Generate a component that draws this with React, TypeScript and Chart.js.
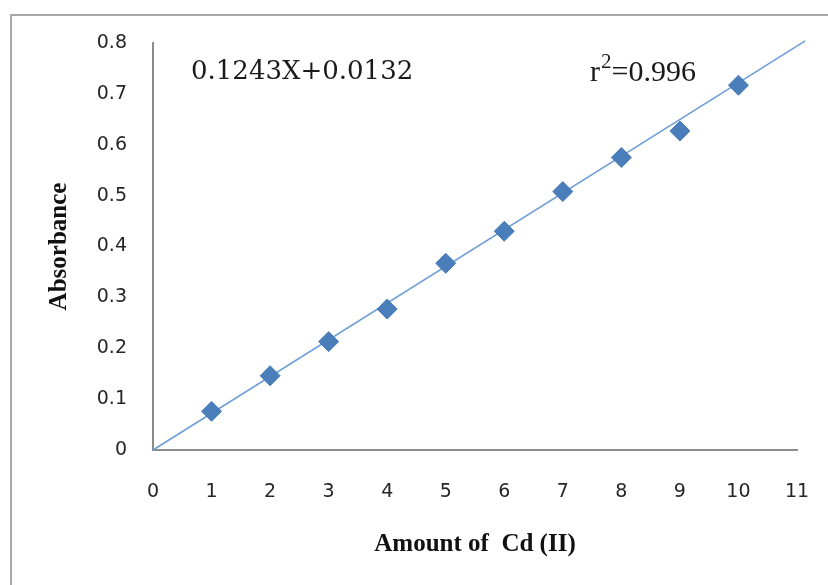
import React, { useEffect, useRef } from "react";
import { Chart, registerables } from "chart.js";

Chart.register(...registerables);

// Data
const amounts = [1, 2, 3, 4, 5, 6, 7, 8, 9, 10];
const absorbance = [0.076, 0.146, 0.213, 0.277, 0.367, 0.43, 0.508, 0.575, 0.627, 0.717];
const trendX = [0, 11.14];
const trendY = [0, 0.804];
const xMin = 0;
const xMax = 11;
const yMin = 0;
const yMax = 0.8;
const equationText = "0.1243X+0.0132";
const rSquaredText = "=0.996";
const xTitle = "Amount of  Cd (II)";
const yTitle = "Absorbance";

const decorPlugin = {
  id: "decor",
  beforeDraw(chart: any) {
    const ctx = chart.ctx;
    ctx.save();
    ctx.fillStyle = "#ffffff";
    ctx.fillRect(0, 0, chart.width, chart.height);
    ctx.strokeStyle = "#a8a8a8";
    ctx.lineWidth = 2;
    ctx.strokeRect(11, 15, 2000, 2000);
    ctx.restore();
  },
  afterDraw(chart: any) {
    const ctx = chart.ctx;
    ctx.save();
    ctx.fillStyle = "#1a1a1a";
    ctx.textBaseline = "alphabetic";
    ctx.textAlign = "left";
    ctx.font = '26px "DejaVu Serif"';
    ctx.fillText(equationText, 191, 79);
    ctx.font = '30px "Liberation Serif"';
    ctx.fillText("r", 590, 81);
    const rw = ctx.measureText("r").width;
    ctx.font = '21px "Liberation Serif"';
    ctx.fillText("2", 590 + rw + 1, 68);
    const sw = ctx.measureText("2").width;
    ctx.font = '30px "Liberation Serif"';
    ctx.fillText(rSquaredText, 590 + rw + sw + 1, 81);
    ctx.restore();
  },
};

export default function App() {
  const canvasRef = useRef<HTMLCanvasElement | null>(null);

  useEffect(() => {
    if (!canvasRef.current) return;
    const chart = new Chart(canvasRef.current, {
      type: "scatter",
      data: {
        datasets: [
          {
            label: "Absorbance",
            data: amounts.map((x, i) => ({ x, y: absorbance[i] })),
            pointStyle: "rectRot",
            pointRadius: 10,
            pointBackgroundColor: "#4a7ebb",
            pointBorderColor: "#4a7ebb",
            pointBorderWidth: 1,
            showLine: false,
          },
          {
            label: "Trend",
            data: trendX.map((x, i) => ({ x, y: trendY[i] })),
            showLine: true,
            borderColor: "#6d9dd6",
            borderWidth: 1.5,
            pointRadius: 0,
            clip: false as any,
          },
        ],
      },
      options: {
        animation: false,
        responsive: false,
        layout: { autoPadding: false, padding: { top: 43, right: 31, left: 0, bottom: 0 } },
        plugins: {
          legend: { display: false },
          tooltip: { enabled: false },
        },
        scales: {
          x: {
            type: "linear",
            min: xMin,
            max: xMax,
            grid: { display: false, drawTicks: false },
            border: { display: true, color: "#8c8c8c", width: 2 },
            ticks: {
              stepSize: 1,
              padding: 31,
              color: "#262626",
              font: { family: '"DejaVu Sans"', size: 19 },
            },
            title: {
              display: true,
              text: xTitle,
              color: "#111111",
              font: { family: '"Liberation Serif"', size: 25, weight: "bold" },
              padding: { top: 0, bottom: 25 },
            },
            afterFit(scale: any) {
              scale.height = 135;
              scale.paddingRight = 0;
              scale.paddingLeft = 0;
            },
          },
          y: {
            type: "linear",
            min: yMin,
            max: yMax,
            grid: { display: false, drawTicks: false },
            border: { display: true, color: "#8c8c8c", width: 2 },
            ticks: {
              stepSize: 0.1,
              padding: 26,
              color: "#262626",
              font: { family: '"DejaVu Sans"', size: 19 },
              callback: (v: any) => (Number(v) === 0 ? "0" : Number(v).toFixed(1)),
            },
            title: {
              display: true,
              text: yTitle,
              color: "#111111",
              font: { family: '"Liberation Serif"', size: 25, weight: "bold" },
              padding: { top: 45, bottom: 0 },
            },
            afterFit(scale: any) {
              scale.width = 153;
            },
          },
        },
      },
      plugins: [decorPlugin],
    });
    return () => chart.destroy();
  }, []);

  return (
    <div style={{ position: "fixed", left: 0, top: 0, width: 828, height: 585, overflow: "hidden", background: "#fff" }}>
      <canvas ref={canvasRef} width={828} height={585} style={{ display: "block", width: 828, height: 585 }} />
    </div>
  );
}
